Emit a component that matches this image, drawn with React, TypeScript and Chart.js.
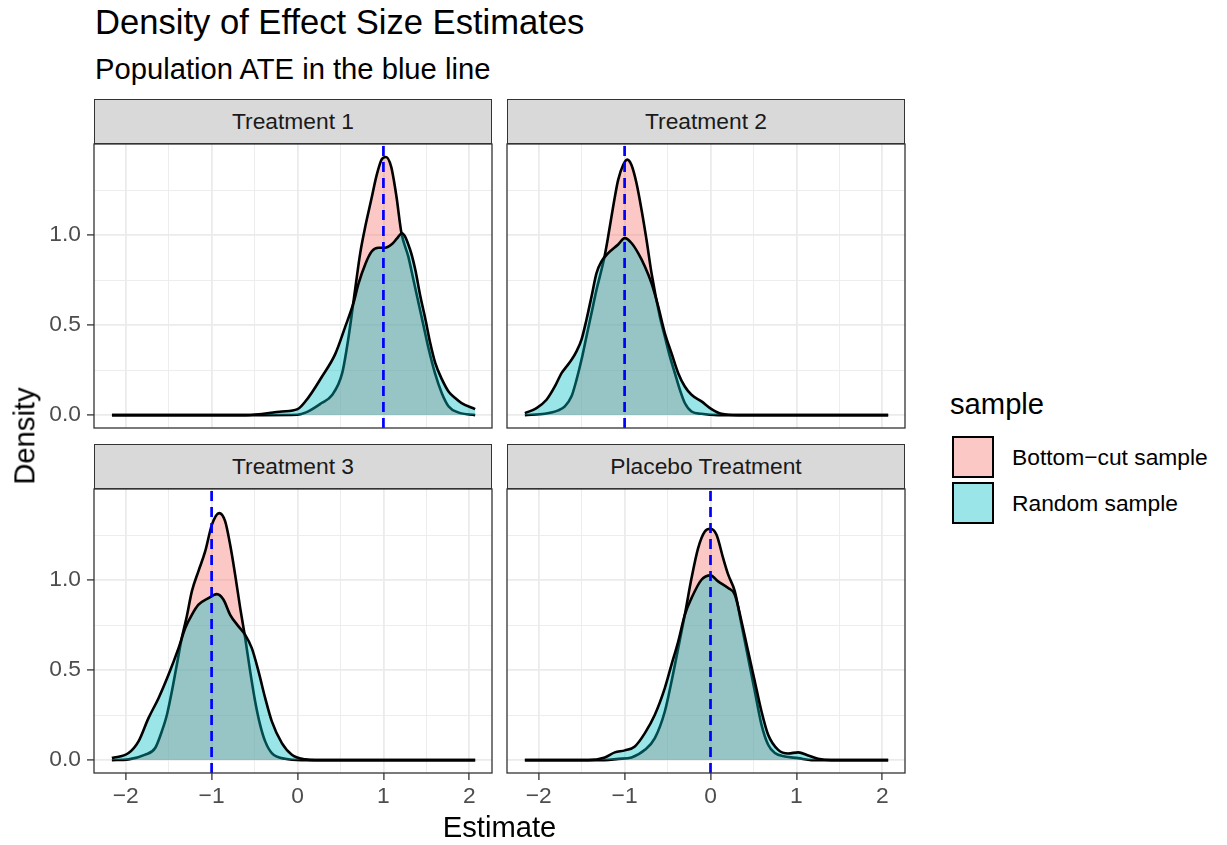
import React, { useEffect, useRef } from "react";
import { Chart, registerables } from "chart.js";

Chart.register(...registerables);

const FONT = '"Liberation Sans", Arial, Helvetica, sans-serif';

// ---------- data ----------
const titleText = "Density of Effect Size Estimates";
const subtitleText = "Population ATE in the blue line";
const xAxisTitle = "Estimate";
const yAxisTitle = "Density";
const legendTitle = "sample";
const panelTitles = ["Treatment 1", "Treatment 2", "Treatment 3", "Placebo Treatment"];
const sampleNames = ["Bottom−cut sample", "Random sample"];
const ateValues = [1, -1, -1, 0];

const xTickValues = [-2, -1, 0, 1, 2];
const xTickLabels = ["−2", "−1", "0", "1", "2"];
const xMinorValues = [-1.5, -0.5, 0.5, 1.5];
const yTickValues = [0, 0.5, 1.0];
const yTickLabels = ["0.0", "0.5", "1.0"];
const yMinorValues = [0.25, 0.75, 1.25];
const xLimits = [-2.369, 2.264];
const yLimits = [-0.0717, 1.506];

// Treatment 1
const t1BottomX = [-2.16, -0.4, 0.0, 0.1, 0.28, 0.4, 0.52, 0.59, 0.67, 0.73, 0.79, 0.86, 0.92, 0.98, 1.03, 1.09, 1.15, 1.21, 1.29, 1.35, 1.41, 1.47, 1.52, 1.6, 1.68, 1.76, 1.87, 2.068];
const t1BottomY = [0, 0, 0.002, 0.015, 0.067, 0.11, 0.233, 0.42, 0.696, 0.9, 1.05, 1.2, 1.33, 1.42, 1.434, 1.38, 1.22, 1.011, 0.88, 0.75, 0.62, 0.49, 0.381, 0.233, 0.122, 0.048, 0.015, 0];
const t1RandomX = [-2.16, -0.6, -0.18, 0.0, 0.13, 0.28, 0.44, 0.555, 0.65, 0.71, 0.79, 0.865, 0.943, 1.02, 1.1, 1.156, 1.215, 1.31, 1.37, 1.43, 1.49, 1.545, 1.603, 1.68, 1.76, 1.835, 1.91, 2.068];
const t1RandomY = [0, 0, 0.02, 0.033, 0.1, 0.21, 0.34, 0.49, 0.62, 0.73, 0.84, 0.91, 0.93, 0.93, 0.95, 0.98, 1.01, 0.92, 0.81, 0.66, 0.53, 0.4, 0.29, 0.2, 0.13, 0.095, 0.067, 0.033];

// Treatment 2
const t2BottomX = [-2.161, -1.929, -1.773, -1.696, -1.618, -1.56, -1.502, -1.444, -1.385, -1.327, -1.269, -1.23, -1.191, -1.133, -1.075, -1.017, -0.97, -0.92, -0.862, -0.803, -0.745, -0.687, -0.59, -0.532, -0.473, -0.415, -0.357, -0.299, -0.221, -0.105, 0.089, 2.068];
const t2BottomY = [0, 0.007, 0.026, 0.048, 0.104, 0.196, 0.307, 0.437, 0.567, 0.696, 0.807, 0.89, 0.993, 1.159, 1.307, 1.389, 1.419, 1.389, 1.289, 1.141, 0.974, 0.789, 0.548, 0.437, 0.326, 0.233, 0.141, 0.067, 0.02, 0.007, 0, 0];
const t2RandomX = [-2.161, -2.025, -1.909, -1.812, -1.734, -1.676, -1.618, -1.56, -1.502, -1.444, -1.385, -1.327, -1.269, -1.191, -1.075, -0.997, -0.92, -0.842, -0.764, -0.687, -0.609, -0.532, -0.454, -0.376, -0.299, -0.221, -0.105, 0.012, 0.128, 0.322, 2.068];
const t2RandomY = [0.011, 0.039, 0.085, 0.159, 0.233, 0.27, 0.307, 0.354, 0.419, 0.53, 0.659, 0.789, 0.854, 0.9, 0.948, 0.983, 0.956, 0.9, 0.826, 0.733, 0.604, 0.456, 0.344, 0.233, 0.159, 0.113, 0.076, 0.033, 0.007, 0, 0];

// Treatment 3
const t3BottomX = [-2.161, -1.967, -1.773, -1.657, -1.58, -1.52, -1.463, -1.405, -1.347, -1.288, -1.23, -1.153, -1.075, -0.997, -0.912, -0.842, -0.784, -0.726, -0.667, -0.609, -0.551, -0.493, -0.435, -0.376, -0.299, -0.144, 0.05, 2.068];
const t3BottomY = [0, 0.004, 0.03, 0.067, 0.159, 0.252, 0.381, 0.53, 0.678, 0.8, 0.937, 1.05, 1.159, 1.307, 1.372, 1.326, 1.196, 1.03, 0.844, 0.678, 0.493, 0.326, 0.196, 0.104, 0.039, 0.007, 0, 0];
const t3RandomX = [-2.161, -1.967, -1.851, -1.735, -1.618, -1.502, -1.385, -1.308, -1.23, -1.153, -1.036, -0.939, -0.861, -0.784, -0.687, -0.609, -0.532, -0.454, -0.376, -0.299, -0.182, -0.066, 0.089, 0.206, 2.068];
const t3RandomY = [0.011, 0.039, 0.104, 0.233, 0.344, 0.474, 0.622, 0.733, 0.807, 0.863, 0.9, 0.922, 0.891, 0.807, 0.743, 0.696, 0.622, 0.493, 0.344, 0.215, 0.094, 0.03, 0.004, 0, 0];

// Placebo Treatment
const t4BottomX = [-2.161, -1.23, -1.075, -0.92, -0.764, -0.648, -0.532, -0.454, -0.376, -0.299, -0.221, -0.144, -0.066, 0, 0.07, 0.147, 0.206, 0.283, 0.361, 0.438, 0.516, 0.594, 0.671, 0.749, 0.865, 1.021, 1.176, 2.068];
const t4BottomY = [0, 0, 0.007, 0.015, 0.057, 0.122, 0.27, 0.437, 0.622, 0.807, 1.011, 1.178, 1.27, 1.285, 1.252, 1.122, 1.03, 0.937, 0.752, 0.567, 0.381, 0.196, 0.085, 0.039, 0.02, 0.011, 0, 0];
const t4RandomX = [-2.161, -1.424, -1.23, -1.114, -0.997, -0.881, -0.764, -0.648, -0.532, -0.454, -0.376, -0.299, -0.221, -0.105, 0, 0.089, 0.206, 0.283, 0.361, 0.438, 0.516, 0.594, 0.671, 0.788, 0.904, 1.021, 1.137, 1.253, 1.409, 2.068];
const t4RandomY = [0, 0, 0.015, 0.043, 0.054, 0.076, 0.15, 0.252, 0.4, 0.53, 0.659, 0.807, 0.9, 1.002, 1.026, 0.993, 0.956, 0.919, 0.77, 0.604, 0.437, 0.27, 0.141, 0.057, 0.037, 0.043, 0.026, 0.007, 0, 0];

const bottomXs = [t1BottomX, t2BottomX, t3BottomX, t4BottomX];
const bottomYs = [t1BottomY, t2BottomY, t3BottomY, t4BottomY];
const randomXs = [t1RandomX, t2RandomX, t3RandomX, t4RandomX];
const randomYs = [t1RandomY, t2RandomY, t3RandomY, t4RandomY];

// ---------- styles ----------
const PINK_FILL = "rgba(248,118,109,0.4)";
const TEAL_FILL = "rgba(0,191,196,0.4)";
const SMALL = 22.8;
const MID = 29.2;
const BIG = 34.6;

type Rect = { left: number; top: number; width: number; height: number };
const panelRects: Rect[] = [
  { left: 94, top: 144, width: 398, height: 284 },
  { left: 507, top: 144, width: 398, height: 284 },
  { left: 94, top: 489, width: 398, height: 284 },
  { left: 507, top: 489, width: 398, height: 284 },
];
const STRIP_H = 45.5;
const PAD = 4;
const X_AXIS_H = 40;

const borderPlugin = {
  id: "panelBorder",
  afterDraw(chart: any) {
    const { ctx, chartArea: a } = chart;
    ctx.save();
    ctx.strokeStyle = "#333333";
    ctx.lineWidth = 1.3;
    ctx.strokeRect(a.left, a.top, a.right - a.left, a.bottom - a.top);
    ctx.restore();
  },
};

function zeroPad(axis: any) {
  axis.paddingTop = 0;
  axis.paddingBottom = 0;
  axis.paddingLeft = 0;
  axis.paddingRight = 0;
}

function Panel({ idx }: { idx: number }) {
  const ref = useRef<HTMLCanvasElement | null>(null);
  const r = panelRects[idx];
  const showY = idx % 2 === 0;
  const showX = idx >= 2;
  const cLeft = showY ? 0 : r.left - PAD;
  const cTop = r.top - PAD;
  const cWidth = r.left + r.width + PAD - cLeft;
  const cHeight = PAD + r.height + (showX ? X_AXIS_H : PAD);

  useEffect(() => {
    const canvas = ref.current;
    if (!canvas) return;
    const allX = [...xTickValues, ...xMinorValues].sort((a, b) => a - b);
    const allY = [...yTickValues, ...yMinorValues].sort((a, b) => a - b);
    const isMajX = (v: number) => xTickValues.indexOf(v) >= 0;
    const isMajY = (v: number) => yTickValues.indexOf(v) >= 0;
    const ate = ateValues[idx];
    const chart = new Chart(canvas, {
      type: "line",
      data: {
        datasets: [
          {
            label: sampleNames[0],
            data: bottomXs[idx].map((x, i) => ({ x, y: bottomYs[idx][i] })),
            borderColor: "#000000",
            borderWidth: 2.6,
            backgroundColor: PINK_FILL,
            fill: "origin",
            pointRadius: 0,
            cubicInterpolationMode: "monotone",
            order: 3,
          },
          {
            label: sampleNames[1],
            data: randomXs[idx].map((x, i) => ({ x, y: randomYs[idx][i] })),
            borderColor: "#000000",
            borderWidth: 2.6,
            backgroundColor: TEAL_FILL,
            fill: "origin",
            pointRadius: 0,
            cubicInterpolationMode: "monotone",
            order: 2,
          },
          {
            label: "ATE",
            data: [
              { x: ate, y: yLimits[0] },
              { x: ate, y: yLimits[1] },
            ],
            borderColor: "#0000FF",
            borderWidth: 2.7,
            borderDash: [10, 6],
            fill: false,
            pointRadius: 0,
            order: 1,
          },
        ],
      },
      options: {
        animation: false,
        responsive: false,
        devicePixelRatio: 1,
        events: [],
        layout: {
          padding: { left: showY ? 0 : PAD, right: PAD, top: PAD, bottom: showX ? 0 : PAD },
        },
        plugins: { legend: { display: false }, tooltip: { enabled: false } },
        scales: {
          x: {
            type: "linear",
            min: xLimits[0],
            max: xLimits[1],
            afterBuildTicks: (axis: any) => {
              axis.ticks = allX.map((v) => ({ value: v }));
            },
            afterFit: (axis: any) => {
              axis.height = showX ? X_AXIS_H : 0;
              zeroPad(axis);
            },
            border: { display: false },
            grid: {
              color: "#EBEBEB",
              lineWidth: (c: any) => (c.tick && isMajX(c.tick.value) ? 1.8 : 0.9),
              drawTicks: showX,
              tickLength: 7,
              tickWidth: 1.3,
              tickColor: (c: any) => (c.tick && isMajX(c.tick.value) ? "#333333" : "rgba(0,0,0,0)"),
            },
            ticks: {
              display: showX,
              autoSkip: false,
              maxRotation: 0,
              padding: 3,
              color: "#4D4D4D",
              font: { family: FONT, size: SMALL },
              callback: (v: any) => {
                const k = xTickValues.indexOf(Number(v));
                return k >= 0 ? xTickLabels[k] : "";
              },
            },
          },
          y: {
            type: "linear",
            min: yLimits[0],
            max: yLimits[1],
            afterBuildTicks: (axis: any) => {
              axis.ticks = allY.map((v) => ({ value: v }));
            },
            afterFit: (axis: any) => {
              axis.width = showY ? r.left : 0;
              zeroPad(axis);
            },
            border: { display: false },
            grid: {
              color: "#EBEBEB",
              lineWidth: (c: any) => (c.tick && isMajY(c.tick.value) ? 1.8 : 0.9),
              drawTicks: showY,
              tickLength: 7,
              tickWidth: 1.3,
              tickColor: (c: any) => (c.tick && isMajY(c.tick.value) ? "#333333" : "rgba(0,0,0,0)"),
            },
            ticks: {
              display: showY,
              autoSkip: false,
              padding: 6,
              color: "#4D4D4D",
              font: { family: FONT, size: SMALL },
              callback: (v: any) => {
                const k = yTickValues.indexOf(Number(v));
                return k >= 0 ? yTickLabels[k] : "";
              },
            },
          },
        },
      } as any,
      plugins: [borderPlugin],
    });
    return () => chart.destroy();
  }, [idx]);

  return (
    <>
      <div
        style={{
          position: "absolute",
          left: r.left,
          top: r.top - STRIP_H,
          width: r.width,
          height: STRIP_H,
          boxSizing: "border-box",
          background: "#D9D9D9",
          border: "1.3px solid #333333",
          display: "flex",
          alignItems: "center",
          justifyContent: "center",
          fontFamily: FONT,
          fontSize: SMALL,
          color: "#1A1A1A",
          lineHeight: 1,
          whiteSpace: "nowrap",
        }}
      >
        {panelTitles[idx]}
      </div>
      <canvas
        ref={ref}
        width={cWidth}
        height={cHeight}
        style={{ position: "absolute", left: cLeft, top: cTop, width: cWidth, height: cHeight }}
      />
    </>
  );
}

function Txt({ x, baseline, size, children, color = "#000000" }: any) {
  return (
    <div
      style={{
        position: "absolute",
        left: x,
        top: baseline - 0.8465 * size,
        fontFamily: FONT,
        fontSize: size,
        lineHeight: 1,
        color,
        whiteSpace: "nowrap",
      }}
    >
      {children}
    </div>
  );
}

export default function App() {
  return (
    <div
      style={{
        position: "fixed",
        left: 0,
        top: 0,
        width: 1227,
        height: 845,
        background: "#FFFFFF",
        overflow: "hidden",
      }}
    >
      <Txt x={95} baseline={34} size={BIG}>{titleText}</Txt>
      <Txt x={95} baseline={80} size={MID}>{subtitleText}</Txt>
      {[0, 1, 2, 3].map((i) => (
        <Panel key={i} idx={i} />
      ))}
      <div
        style={{
          position: "absolute",
          left: 499.5,
          top: 838 - 0.8465 * MID,
          transform: "translateX(-50%)",
          fontFamily: FONT,
          fontSize: MID,
          lineHeight: 1,
          whiteSpace: "nowrap",
        }}
      >
        {xAxisTitle}
      </div>
      <div
        style={{
          position: "absolute",
          left: 25,
          top: 436,
          transform: "translate(-50%, -50%) rotate(-90deg)",
          fontFamily: FONT,
          fontSize: MID,
          lineHeight: 1,
          whiteSpace: "nowrap",
        }}
      >
        {yAxisTitle}
      </div>
      <Txt x={950} baseline={415} size={MID}>{legendTitle}</Txt>
      {[0, 1].map((k) => (
        <React.Fragment key={k}>
          <div
            style={{
              position: "absolute",
              left: 951.5,
              top: 435.5 + k * 46,
              width: 42.5,
              height: 42.5,
              boxSizing: "border-box",
              border: "2px solid #000000",
              background: k === 0 ? PINK_FILL : TEAL_FILL,
            }}
          />
          <Txt x={1012} baseline={465 + k * 46} size={SMALL}>{sampleNames[k]}</Txt>
        </React.Fragment>
      ))}
    </div>
  );
}
